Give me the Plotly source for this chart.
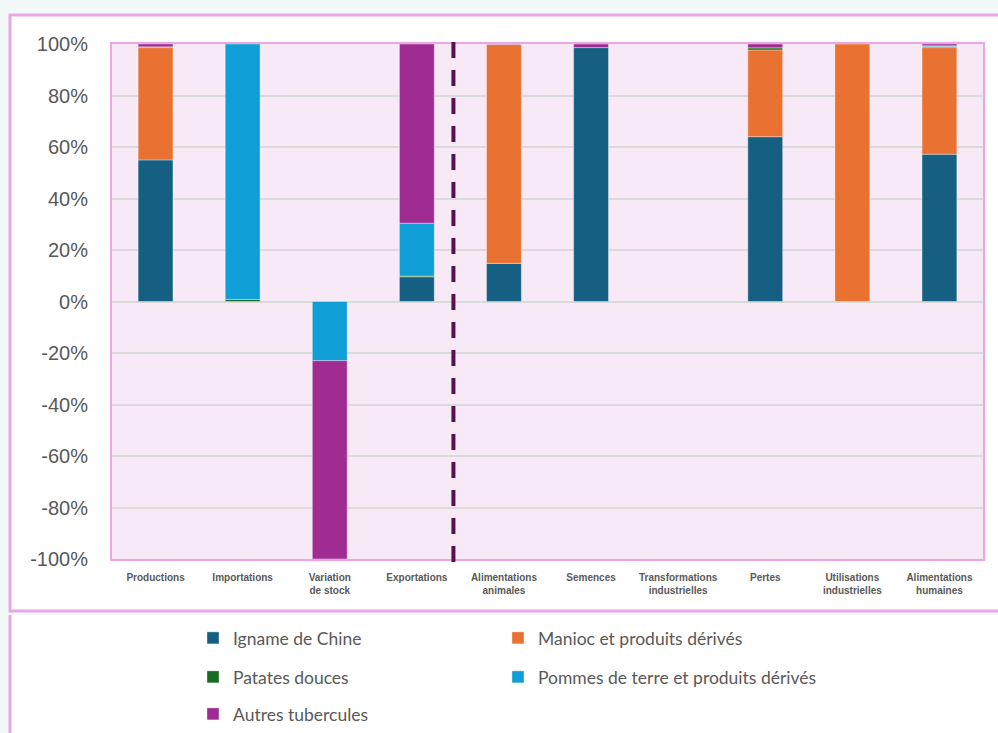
import plotly.graph_objects as go

categories = ["Productions", "Importations", "Variation<br>de stock", "Exportations",
              "Alimentations<br>animales", "Semences", "Transformations<br>industrielles",
              "Pertes", "Utilisations<br>industrielles", "Alimentations<br>humaines"]

igname =   [55.0, 0.0, 0.0, 9.6, 14.8, 98.6, 0.0, 64.0, 0.0, 57.2]
manioc =   [43.6, 0.0, 0.0, 0.0, 85.0, 0.0, 0.0, 33.7, 100.0, 41.4]
patates =  [0.3, 0.8, 0.0, 0.3, 0.0, 0.0, 0.0, 0.8, 0.0, 0.4]
pommes =   [0.0, 99.2, -23.0, 20.5, 0.0, 0.0, 0.0, 0.0, 0.0, 0.3]
autres =   [1.1, 0.0, -77.0, 69.6, 0.2, 1.4, 0.0, 1.5, 0.0, 0.7]

tick_values = [-100, -80, -60, -40, -20, 0, 20, 40, 60, 80, 100]
tick_labels = ["-100%", "-80%", "-60%", "-40%", "-20%", "0%", "20%", "40%", "60%", "80%", "100%"]

series_names = ["Igname de Chine", "Manioc et produits dérivés", "Patates douces",
                "Pommes de terre et produits dérivés", "Autres tubercules"]
series_values = [igname, manioc, patates, pommes, autres]
series_colors = ["#156082", "#E97132", "#196B24", "#0F9ED5", "#A02B93"]
legend_ids = ["legend", "legend2", "legend3", "legend4", "legend5"]

fig = go.Figure()
for name, vals, col, lg in zip(series_names, series_values, series_colors, legend_ids):
    fig.add_trace(go.Bar(
        x=categories, y=[v if v != 0 else None for v in vals], name=name, legend=lg,
        showlegend=True,
        marker=dict(color=col, line=dict(color="rgba(255,255,255,0.45)", width=0.8)),
    ))

W, H = 998, 733
L, R, T, B = 112, 15, 44, 174
pw, ph = W - L - R, H - T - B

def px(x):
    return (x - L) / pw

def py(y):
    return (H - B - y) / ph

pink = "#EBA6E6"
plot_bg = "#F8E9F7"
shapes = [
    dict(type="rect", xref="paper", yref="paper", x0=px(10), x1=px(1010), y0=py(611), y1=py(15),
         fillcolor="white", line=dict(color=pink, width=3), layer="below"),
    dict(type="rect", xref="paper", yref="paper", x0=px(9), x1=px(1010), y0=py(760), y1=py(615),
         fillcolor="white", line=dict(width=0), layer="below"),
    dict(type="line", xref="paper", yref="paper", x0=px(10), x1=px(10), y0=py(760), y1=py(615),
         line=dict(color=pink, width=3), layer="below"),
    dict(type="rect", xref="paper", yref="paper", x0=0, x1=1, y0=0, y1=1,
         fillcolor=plot_bg, line=dict(width=0), layer="below"),
    dict(type="line", xref="x", yref="paper", x0=3.42, x1=3.42, y0=py(562), y1=py(40),
         line=dict(color="#561150", width=4, dash="16px,12px"), layer="above"),
]

legend_font = dict(family="Lato, Noto Sans, sans-serif", size=17.5, color="#595959")
common_leg = dict(orientation="h", xanchor="left", yanchor="middle", font=legend_font,
                  bgcolor="rgba(0,0,0,0)", itemclick=False)

col1_x, col2_x = px(193), px(498)
row_y = [py(638), py(677), py(714)]

fig.update_layout(
    width=W, height=H,
    margin=dict(l=L, r=R, t=T, b=B, autoexpand=False),
    paper_bgcolor="#F3F9F9",
    plot_bgcolor=plot_bg,
    barmode="relative",
    bargap=0.6,
    showlegend=True,
    shapes=shapes,
    legend=dict(x=col1_x, y=row_y[0], **common_leg),
    legend2=dict(x=col2_x, y=row_y[0], **common_leg),
    legend3=dict(x=col1_x, y=row_y[1], **common_leg),
    legend4=dict(x=col2_x, y=row_y[1], **common_leg),
    legend5=dict(x=col1_x, y=row_y[2], **common_leg),
    xaxis=dict(
        type="category", categoryorder="array", categoryarray=categories,
        tickfont=dict(family="Liberation Sans, Arial, sans-serif", size=10, color="#595959", weight="bold"),
        showline=True, linecolor=pink, linewidth=2, mirror=True,
        ticks="", ticklabelstandoff=8, showgrid=False,
    ),
    yaxis=dict(
        range=[-100, 100], tickvals=tick_values, ticktext=tick_labels,
        tickfont=dict(family="Liberation Sans, Arial, sans-serif", size=20, color="#595959"),
        showline=True, linecolor=pink, linewidth=2, mirror=True,
        gridcolor="#DADADA", gridwidth=1.5, zeroline=True, zerolinecolor="#DADADA", zerolinewidth=1.5,
        ticks="", ticklabelstandoff=18,
    ),
)

fig.write_html("out.html", config={"displayModeBar": False},
               post_script="document.body.style.margin='0';document.body.style.background='#F3F9F9';")
